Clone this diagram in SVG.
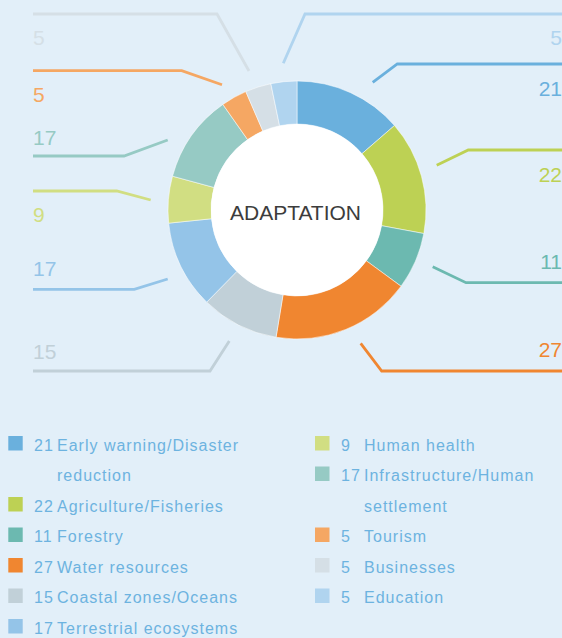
<svg xmlns="http://www.w3.org/2000/svg" width="562" height="638" viewBox="0 0 562 638">
<style>
.ld{fill:none;stroke-width:2.8;stroke-linejoin:miter}
.num{font-family:"Liberation Sans",Arial,sans-serif;font-size:21px}
.lg{font-family:"Liberation Sans",Arial,sans-serif;font-size:16px;fill:#6db3e0;letter-spacing:1px}
.seg{stroke:#ffffff;stroke-width:0.5}
</style>
<rect x="0" y="0" width="562" height="638" fill="#e2eff9"/>
<g id="connectors">
<polyline class="ld" stroke="#d5dfe6" points="33,14 217,14 249,71"/>
<polyline class="ld" stroke="#f5a763" points="33,70.7 181.7,70.7 222,84.7"/>
<polyline class="ld" stroke="#96cac4" points="33,156 124,156 167.7,140"/>
<polyline class="ld" stroke="#d1de82" points="33,191 116.7,191 150.7,200"/>
<polyline class="ld" stroke="#94c4e8" points="33,289.3 134.3,289.3 167.7,279"/>
<polyline class="ld" stroke="#c1d0d8" points="33,371 210,371 229.3,341"/>
<polyline class="ld" stroke="#b0d4ef" points="283.3,63.3 305,14 562,14"/>
<polyline class="ld" stroke="#6ab0dd" points="372.7,82.3 397.3,64 562,64"/>
<polyline class="ld" stroke="#bdd154" points="436.7,165.3 468.3,150 562,150"/>
<polyline class="ld" stroke="#6cb9b0" points="432.7,266.7 466,282.7 562,282.7"/>
<polyline class="ld" stroke="#f08630" points="360.7,343.3 381.7,371 562,371"/>
</g>
<g id="donut">
<path id="seg-early-warning" class="seg" fill="#6ab0dd" d="M297,81 A129,129 0 0 1 394.49,125.52 L361.99,153.68 A86,86 0 0 0 297,124 Z"/>
<path id="seg-agriculture" class="seg" fill="#bdd154" d="M394.49,125.52 A129,129 0 0 1 423.83,233.56 L381.56,225.70 A86,86 0 0 0 361.99,153.68 Z"/>
<path id="seg-forestry" class="seg" fill="#6cb9b0" d="M423.83,233.56 A129,129 0 0 1 401.05,286.25 L366.37,260.83 A86,86 0 0 0 381.56,225.70 Z"/>
<path id="seg-water" class="seg" fill="#f08630" d="M401.05,286.25 A129,129 0 0 1 276.04,337.28 L283.02,294.86 A86,86 0 0 0 366.37,260.83 Z"/>
<path id="seg-coastal" class="seg" fill="#c1d0d8" d="M276.04,337.28 A129,129 0 0 1 206.71,302.14 L236.81,271.43 A86,86 0 0 0 283.02,294.86 Z"/>
<path id="seg-terrestrial" class="seg" fill="#94c4e8" d="M206.71,302.14 A129,129 0 0 1 168.67,223.13 L211.45,218.75 A86,86 0 0 0 236.81,271.43 Z"/>
<path id="seg-health" class="seg" fill="#d1de82" d="M168.67,223.13 A129,129 0 0 1 172.51,176.19 L214.01,187.46 A86,86 0 0 0 211.45,218.75 Z"/>
<path id="seg-infrastructure" class="seg" fill="#96cac4" d="M172.51,176.19 A129,129 0 0 1 222.89,104.41 L247.59,139.61 A86,86 0 0 0 214.01,187.46 Z"/>
<path id="seg-tourism" class="seg" fill="#f5a763" d="M222.89,104.41 A129,129 0 0 1 245.81,91.59 L262.88,131.06 A86,86 0 0 0 247.59,139.61 Z"/>
<path id="seg-businesses" class="seg" fill="#d5dfe6" d="M245.81,91.59 A129,129 0 0 1 270.86,83.67 L279.58,125.78 A86,86 0 0 0 262.88,131.06 Z"/>
<path id="seg-education" class="seg" fill="#b0d4ef" d="M270.86,83.67 A129,129 0 0 1 297,81 L297,124 A86,86 0 0 0 279.58,125.78 Z"/>
<circle cx="297" cy="210" r="86" fill="#ffffff"/>
<text x="295.5" y="220" text-anchor="middle" font-family="'Liberation Sans',Arial,sans-serif" font-size="21" fill="#3c3c3c">ADAPTATION</text>
</g>
<g id="values">
<text class="num" x="33" y="45" fill="#d5dfe6">5</text>
<text class="num" x="33" y="101.5" fill="#f5a763">5</text>
<text class="num" x="33" y="145" fill="#96cac4">17</text>
<text class="num" x="33" y="221.5" fill="#d1de82">9</text>
<text class="num" x="33" y="276" fill="#94c4e8">17</text>
<text class="num" x="33" y="359" fill="#c1d0d8">15</text>
<text class="num" x="562" y="45" text-anchor="end" fill="#b0d4ef">5</text>
<text class="num" x="562" y="95.5" text-anchor="end" fill="#6ab0dd">21</text>
<text class="num" x="562" y="181.5" text-anchor="end" fill="#bdd154">22</text>
<text class="num" x="562" y="269" text-anchor="end" fill="#6cb9b0">11</text>
<text class="num" x="562" y="357" text-anchor="end" fill="#f08630">27</text>
</g>
<g id="legend">
<g id="lg-early-warning"><rect x="8.3" y="436" width="14.4" height="14.5" fill="#6ab0dd"/><text class="lg" x="34" y="450.5">21</text><text class="lg" x="57" y="450.5">Early warning/Disaster</text><text class="lg" x="57" y="481">reduction</text></g>
<g id="lg-agriculture"><rect x="8.3" y="497" width="14.4" height="14.5" fill="#bdd154"/><text class="lg" x="34" y="511.5">22</text><text class="lg" x="57" y="511.5">Agriculture/Fisheries</text></g>
<g id="lg-forestry"><rect x="8.3" y="527.5" width="14.4" height="14.5" fill="#6cb9b0"/><text class="lg" x="34" y="542">11</text><text class="lg" x="57" y="542">Forestry</text></g>
<g id="lg-water"><rect x="8.3" y="558" width="14.4" height="14.5" fill="#f08630"/><text class="lg" x="34" y="572.5">27</text><text class="lg" x="57" y="572.5">Water resources</text></g>
<g id="lg-coastal"><rect x="8.3" y="588.5" width="14.4" height="14.5" fill="#c1d0d8"/><text class="lg" x="34" y="603">15</text><text class="lg" x="57" y="603">Coastal zones/Oceans</text></g>
<g id="lg-terrestrial"><rect x="8.3" y="619" width="14.4" height="14.5" fill="#94c4e8"/><text class="lg" x="34" y="633.5">17</text><text class="lg" x="57" y="633.5">Terrestrial ecosystems</text></g>
<g id="lg-health"><rect x="315" y="436" width="14.5" height="14.5" fill="#d1de82"/><text class="lg" x="341" y="450.5">9</text><text class="lg" x="364" y="450.5">Human health</text></g>
<g id="lg-infrastructure"><rect x="315" y="466.5" width="14.5" height="14.5" fill="#96cac4"/><text class="lg" x="341" y="481">17</text><text class="lg" x="364" y="481">Infrastructure/Human</text><text class="lg" x="364" y="511.5">settlement</text></g>
<g id="lg-tourism"><rect x="315" y="527.5" width="14.5" height="14.5" fill="#f5a763"/><text class="lg" x="341" y="542">5</text><text class="lg" x="364" y="542">Tourism</text></g>
<g id="lg-businesses"><rect x="315" y="558" width="14.5" height="14.5" fill="#d5dfe6"/><text class="lg" x="341" y="572.5">5</text><text class="lg" x="364" y="572.5">Businesses</text></g>
<g id="lg-education"><rect x="315" y="588.5" width="14.5" height="14.5" fill="#b0d4ef"/><text class="lg" x="341" y="603">5</text><text class="lg" x="364" y="603">Education</text></g>
</g>
</svg>
